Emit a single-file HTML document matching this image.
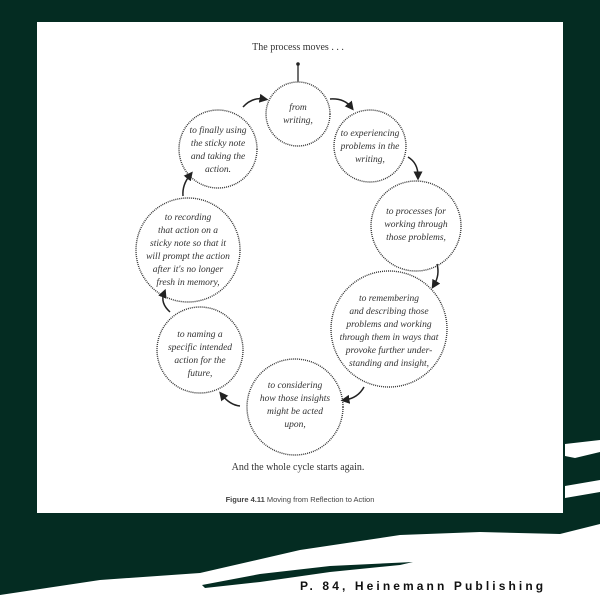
<!DOCTYPE html>
<html><head><style>
html,body{margin:0;padding:0;width:600px;height:610px;overflow:hidden;background:#042c22}
</style></head><body>
<svg width="600" height="610" xmlns="http://www.w3.org/2000/svg">
<rect x="0" y="0" width="600" height="610" fill="#042c22"/>
<rect x="37" y="22" width="526" height="491" fill="#fff"/>
<path d="M0,595 L100,580 L200,573 L300,550 L400,535 L480,532 L560,534 L600,524 L600,610 L0,610 Z" fill="#fff"/>
<path d="M565,444 L600,440 L600,452 L575,458 L565,456 Z M565,486 L600,480 L600,492 L565,498 Z" fill="#fff"/>
<path d="M202,585 L260,574 L330,566 L413,562 L400,565 L330,572 L260,582 L205,588 Z" fill="#042c22"/>
<text x="300" y="590" font-family="Liberation Sans, sans-serif" font-weight="bold" font-size="12" letter-spacing="3.1" fill="#111">P. 84, Heinemann Publishing</text>
<g font-family="Liberation Serif, serif" fill="#333">
<text x="298" y="50" font-size="10" text-anchor="middle">The process moves . . .</text>
<text x="298" y="470" font-size="10" text-anchor="middle">And the whole cycle starts again.</text>
<text x="300" y="502" font-size="7.5" text-anchor="middle" font-family="Liberation Sans, sans-serif" fill="#444"><tspan font-weight="bold">Figure 4.11</tspan>    Moving from Reflection to Action</text>
</g>
<line x1="298" y1="64" x2="298" y2="82" stroke="#222" stroke-width="1.3"/>
<circle cx="298" cy="64" r="1.8" fill="#222"/>
<g fill="none" stroke="#333" stroke-width="1.4" stroke-dasharray="1 1">
<circle cx="298" cy="114" r="32"/>
<circle cx="370" cy="146" r="36"/>
<circle cx="416" cy="226" r="45"/>
<circle cx="389" cy="329" r="58"/>
<circle cx="295" cy="407" r="48"/>
<circle cx="200" cy="350" r="43"/>
<circle cx="188" cy="250" r="52"/>
<circle cx="218" cy="149" r="39"/>
</g>
<defs><marker id="a" markerWidth="6" markerHeight="6" refX="3" refY="3" orient="auto"><path d="M0,0 L6,3 L0,6 Z" fill="#222"/></marker></defs>
<g fill="none" stroke="#222" stroke-width="1.5" marker-end="url(#a)">
<path d="M243,107 Q252,97 264,99"/>
<path d="M330,99 Q344,98 351,107"/>
<path d="M408,157 Q418,163 418,176"/>
<path d="M437,264 Q440,275 434,285"/>
<path d="M364,387 Q358,398 345,400"/>
<path d="M240,406 Q230,405 222,395"/>
<path d="M170,312 Q160,303 164,293"/>
<path d="M183,196 Q182,185 190,175"/>
</g>
<g font-family="Liberation Serif, serif" font-style="italic" font-size="9.5" fill="#333" text-anchor="middle">
<text x="298" y="110">from<tspan x="298" dy="13">writing,</tspan></text>
<text x="370" y="136">to experiencing<tspan x="370" dy="13">problems in the</tspan><tspan x="370" dy="13">writing,</tspan></text>
<text x="416" y="214">to processes for<tspan x="416" dy="13">working through</tspan><tspan x="416" dy="13">those problems,</tspan></text>
<text x="389" y="301">to remembering<tspan x="389" dy="13">and describing those</tspan><tspan x="389" dy="13">problems and working</tspan><tspan x="389" dy="13">through them in ways that</tspan><tspan x="389" dy="13">provoke further under-</tspan><tspan x="389" dy="13">standing and insight,</tspan></text>
<text x="295" y="388">to considering<tspan x="295" dy="13">how those insights</tspan><tspan x="295" dy="13">might be acted</tspan><tspan x="295" dy="13">upon,</tspan></text>
<text x="200" y="337">to naming a<tspan x="200" dy="13">specific intended</tspan><tspan x="200" dy="13">action for the</tspan><tspan x="200" dy="13">future,</tspan></text>
<text x="188" y="220">to recording<tspan x="188" dy="13">that action on a</tspan><tspan x="188" dy="13">sticky note so that it</tspan><tspan x="188" dy="13">will prompt the action</tspan><tspan x="188" dy="13">after it's no longer</tspan><tspan x="188" dy="13">fresh in memory,</tspan></text>
<text x="218" y="133">to finally using<tspan x="218" dy="13">the sticky note</tspan><tspan x="218" dy="13">and taking the</tspan><tspan x="218" dy="13">action.</tspan></text>
</g>
</svg>
</body></html>
